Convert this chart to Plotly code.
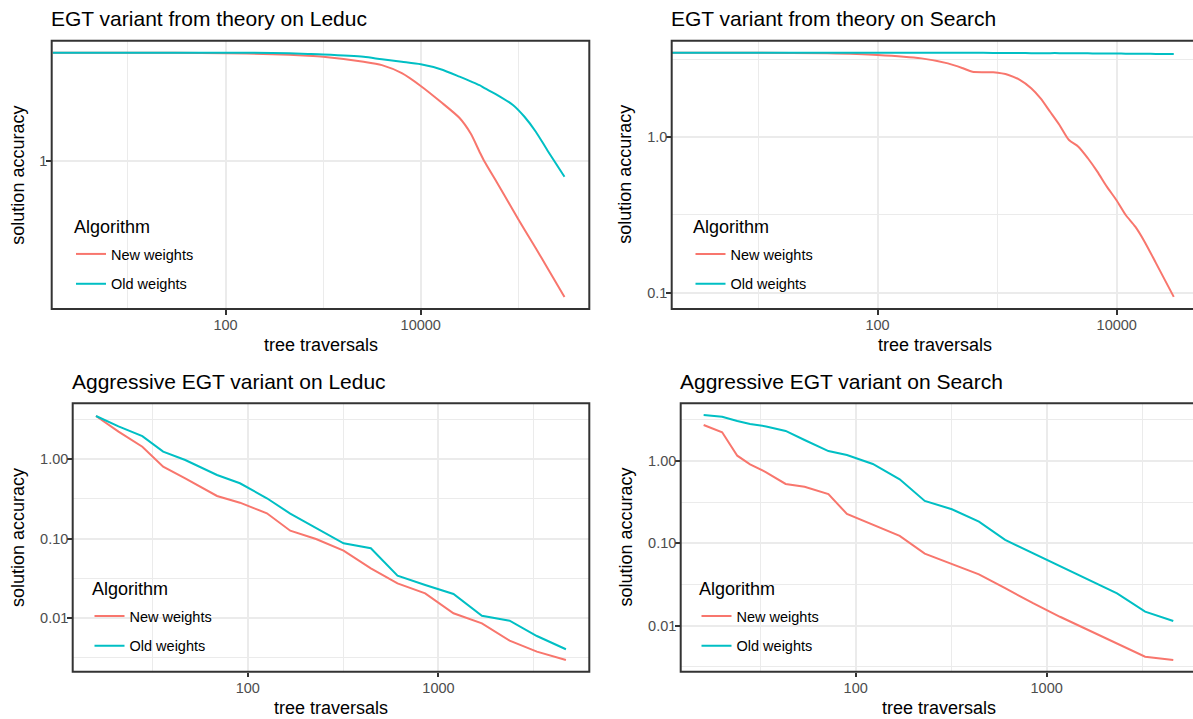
import plotly.graph_objects as go

W, H = 1193, 719

# ---------------- data ----------------
# EGT variant from theory, Leduc
leduc_theory_x = [1.7, 10, 100, 300, 700, 1000, 2600, 4000, 6400, 10000, 16000, 25000,
                  32500, 40000, 45000, 61000, 88000, 115000, 151000, 198000, 297000]
leduc_theory_new = [3.5, 3.5, 3.48, 3.44, 3.38, 3.34, 3.15, 3.03, 2.76, 2.38, 1.98, 1.64,
                    1.37, 1.11, 0.99, 0.77, 0.565, 0.451, 0.362, 0.289, 0.206]
leduc_theory_old = [3.5, 3.5, 3.5, 3.49, 3.45, 3.43, 3.34, 3.24, 3.15, 3.06, 2.89, 2.65,
                    2.51, 2.40, 2.32, 2.14, 1.91, 1.67, 1.40, 1.13, 0.83]

# EGT variant from theory, Search
search_theory_x = [1.9, 10, 38, 100, 233, 387, 518, 621, 927, 1244, 1547, 1926, 2309, 2773,
                   3322, 3989, 4777, 5738, 6885, 8265, 9930, 11900, 14300, 17100, 21300, 30000]
search_theory_new = [3.5, 3.5, 3.47, 3.39, 3.22, 2.99, 2.78, 2.64, 2.62, 2.52, 2.34, 2.07,
                     1.78, 1.46, 1.20, 0.96, 0.87, 0.733, 0.601, 0.481, 0.395, 0.316, 0.266,
                     0.213, 0.155, 0.094]
search_theory_old = [3.5, 3.5, 3.5, 3.5, 3.5, 3.5, 3.5, 3.5, 3.49, 3.49, 3.49, 3.48, 3.48,
                     3.48, 3.48, 3.47, 3.47, 3.47, 3.46, 3.46, 3.46, 3.45, 3.45, 3.45, 3.44,
                     3.44]

# Aggressive EGT variant, Leduc
leduc_aggr_x = [16, 21, 28, 36, 47, 69, 91, 126, 167, 228, 318, 442, 610, 852, 1199, 1690,
                2361, 3282, 4660]
leduc_aggr_new = [3.51, 2.23, 1.44, 0.807, 0.576, 0.345, 0.284, 0.209, 0.126, 0.099, 0.0706,
                  0.0424, 0.0274, 0.0205, 0.0115, 0.0086, 0.00519, 0.00378, 0.00297]
leduc_aggr_old = [3.51, 2.6, 1.96, 1.25, 0.98, 0.634, 0.499, 0.323, 0.207, 0.135, 0.0875,
                  0.0757, 0.0342, 0.0261, 0.0201, 0.0107, 0.00927, 0.00595, 0.00405]

# Aggressive EGT variant, Search
search_aggr_x = [16, 20, 24, 28, 34, 43, 54, 72, 90, 123, 170, 230, 319, 442, 606, 848, 1174,
                 1648, 2336, 3276, 4600]
search_aggr_new = [2.74, 2.23, 1.16, 0.91, 0.729, 0.526, 0.487, 0.397, 0.227, 0.167, 0.123,
                   0.0748, 0.056, 0.042, 0.0285, 0.0187, 0.0128, 0.00885, 0.00604, 0.00419,
                   0.00382]
search_aggr_old = [3.62, 3.45, 3.06, 2.82, 2.63, 2.32, 1.80, 1.32, 1.18, 0.92, 0.60, 0.327,
                   0.259, 0.183, 0.110, 0.0754, 0.0527, 0.0362, 0.0247, 0.0148, 0.0114]

titles = ["EGT variant from theory on Leduc", "EGT variant from theory on Search",
          "Aggressive EGT variant on Leduc", "Aggressive EGT variant on Search"]
series_names = ["New weights", "Old weights"]
legend_title = "Algorithm"
x_label = "tree traversals"
y_label = "solution accuracy"

# ---------------- styling ----------------
FONT = "Liberation Sans, Arial, sans-serif"
RED, CYAN = "#F8766D", "#00BFC4"
GRID = "#EBEBEB"
BORDER = "#333333"
TICKTXT = "#4D4D4D"


def fx(px):
    return px / W


def fy(py):
    return 1 - py / H


# panel rectangles in pixels: (left, right, top, bottom)
panels = [
    (51.7, 589.3, 40.7, 309.0),
    (671.7, 1193.0, 40.7, 309.0),
    (72.7, 589.3, 403.3, 671.7),
    (680.7, 1193.0, 403.3, 671.7),
]
x_ranges = [[0.219, 5.727], [0.278, 4.638], [1.082, 3.791], [1.084, 3.766]]
y_ranges = [[-0.747, 0.6045], [-1.105, 0.6216], [-2.675, 0.705], [-2.560, 0.701]]

x_ticks = [([100, 10000], ["100", "10000"], [10, 1000, 100000]),
           ([100, 10000], ["100", "10000"], [10, 1000]),
           ([100, 1000], ["100", "1000"], [31.62, 316.2, 3162]),
           ([100, 1000], ["100", "1000"], [31.62, 316.2, 3162])]
y_ticks = [([1], ["1"], []),
           ([0.1, 1], ["0.1", "1.0"], [0.3162, 3.162]),
           ([0.01, 0.1, 1], ["0.01", "0.10", "1.00"], [0.003162, 0.03162, 0.3162, 3.162]),
           ([0.01, 0.1, 1], ["0.01", "0.10", "1.00"], [0.003162, 0.03162, 0.3162, 3.162])]

data = [
    (leduc_theory_x, leduc_theory_new, leduc_theory_old, "spline"),
    (search_theory_x, search_theory_new, search_theory_old, "spline"),
    (leduc_aggr_x, leduc_aggr_new, leduc_aggr_old, "linear"),
    (search_aggr_x, search_aggr_new, search_aggr_old, "linear"),
]

# legend heading position (left px, centre px) and legend item box (left px, top px)
legend_head = [(72.0, 226.7), (691.0, 226.7), (90.0, 589.3), (697.0, 589.3)]
legend_pos = [(71.0, 238.0), (690.5, 238.0), (89.5, 600.0), (696.5, 600.0)]

fig = go.Figure()
layout = dict(
    width=W, height=H,
    margin=dict(l=0, r=0, t=0, b=0),
    paper_bgcolor="white", plot_bgcolor="white",
    font=dict(family=FONT, color="black"),
    showlegend=True,
    annotations=[], shapes=[],
)

for i in range(4):
    n = "" if i == 0 else str(i + 1)
    xs, ynew, yold, shape = data[i]
    leg = "legend" + n
    line_kw = dict(width=2, shape=shape)
    if shape == "spline":
        line_kw["smoothing"] = 0.7
    fig.add_trace(go.Scatter(x=xs, y=ynew, mode="lines", name=series_names[0],
                             line=dict(color=RED, **line_kw), xaxis="x" + n, yaxis="y" + n,
                             legend=leg, legendgroup="new" + n))
    fig.add_trace(go.Scatter(x=xs, y=yold, mode="lines", name=series_names[1],
                             line=dict(color=CYAN, **line_kw), xaxis="x" + n, yaxis="y" + n,
                             legend=leg, legendgroup="old" + n))

    l, r, t, b = panels[i]
    xtv, xtt, xminor = x_ticks[i]
    ytv, ytt, yminor = y_ticks[i]
    layout["xaxis" + n] = dict(
        type="log", range=x_ranges[i], domain=[fx(l), fx(r)], anchor="y" + n,
        tickmode="array", tickvals=xtv, ticktext=xtt,
        showgrid=True, gridcolor=GRID, gridwidth=2,
        minor=dict(tickmode="array", tickvals=xminor, showgrid=True, gridcolor=GRID,
                   gridwidth=1.1, ticks=""),
        ticks="outside", ticklen=4.5, tickwidth=2, tickcolor=BORDER,
        ticklabelstandoff=-2,
        tickfont=dict(size=14.5, color=TICKTXT, family=FONT),
        showline=False, zeroline=False, fixedrange=True,
    )
    layout["yaxis" + n] = dict(
        type="log", range=y_ranges[i], domain=[fy(b), fy(t)], anchor="x" + n,
        tickmode="array", tickvals=ytv, ticktext=ytt,
        showgrid=True, gridcolor=GRID, gridwidth=2,
        minor=dict(tickmode="array", tickvals=yminor, showgrid=True, gridcolor=GRID,
                   gridwidth=1.1, ticks=""),
        ticks="outside", ticklen=4.5, tickwidth=2, tickcolor=BORDER,
        ticklabelstandoff=-4,
        tickfont=dict(size=14.5, color=TICKTXT, family=FONT),
        showline=False, zeroline=False, fixedrange=True,
    )

    # panel border
    layout["shapes"].append(dict(type="rect", xref="paper", yref="paper",
                                 x0=fx(l), x1=fx(r + (0 if r < W - 1 else 6)),
                                 y0=fy(b), y1=fy(t),
                                 line=dict(color=BORDER, width=2), fillcolor="rgba(0,0,0,0)",
                                 layer="above"))

    # panel title
    layout["annotations"].append(dict(text=titles[i], xref="paper", yref="paper",
                                      x=fx(l - 3), y=fy(t - 22), xanchor="left", yanchor="middle",
                                      showarrow=False, font=dict(size=21, color="black")))

    # axis titles
    full_r = [589.3, 1198.0, 589.3, 1196.8][i]
    layout["annotations"].append(dict(text=x_label, xref="paper", yref="paper",
                                      x=fx((l + full_r) / 2), y=fy(b + 36), xanchor="center",
                                      yanchor="middle", showarrow=False,
                                      font=dict(size=18, color="black")))
    ytx = [17.8, 625.0, 17.5, 625.0][i]
    layout["annotations"].append(dict(text=y_label, xref="paper", yref="paper",
                                      x=fx(ytx), y=fy((t + b) / 2), xanchor="center",
                                      yanchor="middle", textangle=-90, showarrow=False,
                                      font=dict(size=18, color="black")))

    # legend heading and entries
    hx, hy = legend_head[i]
    layout["annotations"].append(dict(text=legend_title, xref="paper", yref="paper",
                                      x=fx(hx), y=fy(hy), xanchor="left", yanchor="middle",
                                      showarrow=False, font=dict(size=18, color="black")))
    lx, ly = legend_pos[i]
    layout[leg] = dict(
        x=fx(lx), y=fy(ly), xanchor="left", yanchor="top",
        bgcolor="rgba(0,0,0,0)", borderwidth=0,
        font=dict(size=14.5, color="black", family=FONT),
        tracegroupgap=8, itemwidth=30,
    )

fig.update_layout(**layout)
fig.write_html("out.html")
